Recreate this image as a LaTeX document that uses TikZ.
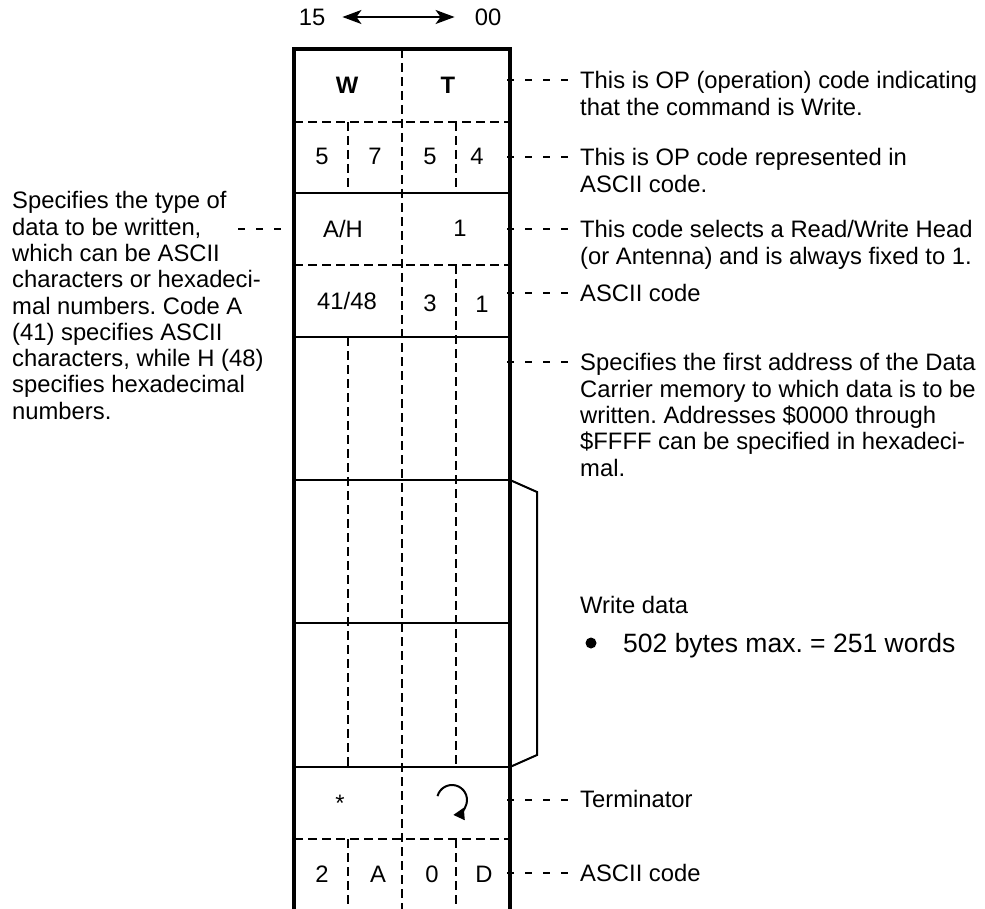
\documentclass[tikz,border=0pt]{standalone}
\usepackage{fontspec}
\setmainfont{Liberation Sans}
\usetikzlibrary{arrows.meta}
\frenchspacing
\begin{document}
\begin{tikzpicture}[x=1pt,y=1pt,
  txt/.style={inner sep=0pt, font=\fontsize{23.8}{26.3}\selectfont},
  desc/.style={txt, align=left, anchor=north west},
  cell/.style={txt, anchor=center},
  frame/.style={line width=4pt, line join=miter},
  rulel/.style={line width=2.5pt},
  dashrule/.style={line width=2.3pt, dash pattern=on 9pt off 5pt},
  leader/.style={line width=2pt, dash pattern=on 7pt off 11pt},
  bracketline/.style={line width=2pt, line join=miter},
]
\useasboundingbox (0,0) rectangle (985,-909);

% top scale
\node[txt] (n15) at (312,-17) {15};
\node[txt] (n00) at (488,-17) {00};
\draw[line width=2pt, {Stealth[length=19pt,width=14pt,inset=5pt]}-{Stealth[length=19pt,width=14pt,inset=5pt]},
  shorten <=17pt, shorten >=20pt] (n15) -- (n00);

% interior horizontal lines
\foreach \y in {193,337,480,623,767} \draw[rulel] (294,-\y) -- (510,-\y);
\foreach \y in {122,265,839} \draw[dashrule] (294,-\y) -- (510,-\y);

% interior vertical dashed lines
\draw[dashrule] (402,-49) -- (402,-912);
\draw[dashrule] (348,-122) -- (348,-193);
\draw[dashrule] (348,-337) -- (348,-767);
\draw[dashrule] (348,-839) -- (348,-912);
\draw[dashrule] (456,-122) -- (456,-193);
\draw[dashrule] (456,-265) -- (456,-767);
\draw[dashrule] (456,-839) -- (456,-912);

% frame
\draw[frame] (294,-912) -- (294,-49.5) -- (510,-49.5) -- (510,-912);

% bracket
\draw[bracketline] (510,-480) -- (537,-492) -- (537,-755) -- (510,-767);

% cell contents
\node[cell, font=\fontsize{23.8}{26.3}\selectfont\bfseries] (cW) at (347,-85) {W};
\node[cell, font=\fontsize{23.8}{26.3}\selectfont\bfseries] (cT) at (448,-85) {T};
\node[cell] (c21) at (322,-156.5) {5};
\node[cell] (c22) at (375,-156.5) {7};
\node[cell] (c23) at (430,-156.5) {5};
\node[cell] (c24) at (477,-156.5) {4};
\node[cell] (c31) at (343,-228.5) {A/H};
\node[cell] (c32) at (460,-228.5) {1};
\node[cell] (c41) at (347,-300.5) {41/48};
\node[cell] (c42) at (430,-303.5) {3};
\node[cell] (c43) at (482,-304) {1};
\node[cell] (cstar) at (340,-803) {*};
\coordinate (ret) at (452,-800);
\draw[line width=2pt, -{Triangle[length=11pt,width=12pt]}] (ret) ++(165:15) arc[start angle=165, end angle=-85, radius=15];
\node[cell] (c91) at (322,-874) {2};
\node[cell] (c92) at (378,-874) {A};
\node[cell] (c93) at (432,-874) {0};
\node[cell] (c94) at (484,-874) {D};

% right descriptions
\node[desc] (d1) at (580,-71.4) {This is OP (operation) code indicating\\that the command is Write.};
\node[desc] (d2) at (580,-148.4) {This is OP code represented in\\ASCII code.};
\node[desc] (d3) at (580,-220.4) {This code selects a Read/Write Head\\(or Antenna) and is always fixed to 1.};
\node[desc] (d4) at (580,-284.4) {ASCII code};
\node[desc] (d5) at (580,-353.4) {Specifies the first address of the Data\\Carrier memory to which data is to be\\written. Addresses \$0000 through\\\$FFFF can be specified in hexadeci-\\mal.};
\node[desc] (d6) at (580,-596.4) {Write data};
\fill (591,-643) circle (5.5pt);
\node[txt, font=\fontsize{26.5}{29}\selectfont, anchor=base west] (d6b) at (623,-652.5) {502 bytes max. = 251 words};
\node[desc] (d7) at (580,-790.4) {Terminator};
\node[desc] (d8) at (580,-863.9) {ASCII code};

% left description
\node[desc] (dl) at (12,-191.4) {Specifies the type of\\data to be written,\\which can be ASCII\\characters or hexadeci-\\mal numbers. Code A\\(41) specifies ASCII\\characters, while H (48)\\specifies hexadecimal\\numbers.};

% leaders
\foreach \y/\n in {80/r1,157/r2,229/r3,293/r4,362/r5,800/r7,873/r8} {
  \coordinate (\n) at (507,-\y);
  \draw[leader] (\n) -- ++(61,0);
}
\coordinate (l3) at (238,-229);
\draw[leader] (l3) -- ++(58,0);
\end{tikzpicture}
\end{document}
